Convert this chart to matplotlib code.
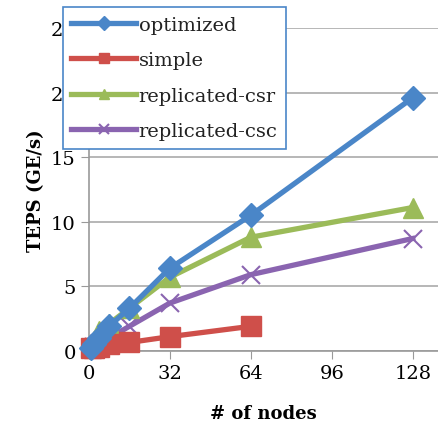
import matplotlib.pyplot as plt

nodes = [1, 2, 4, 8, 16, 32, 64, 128]
optimized = [0.25, 0.5, 1.0, 1.9, 3.3, 6.4, 10.5, 19.6]
simple = [0.2, 0.2, 0.3, 0.5, 0.65, 1.1, 1.9]
replicated_csr = [0.4, 0.8, 1.5, 2.1, 3.3, 5.7, 8.8, 11.1]
replicated_csc = [0.15, 0.3, 0.5, 1.0, 1.9, 3.7, 5.9, 8.7]

xticks = [0, 32, 64, 96, 128]
yticks = [0, 5, 10, 15, 20, 25]

plt.rcParams['font.family'] = ['DejaVu Serif']

fig = plt.figure(figsize=(4.38, 4.27), dpi=100)
ax = fig.add_axes([0.203, 0.176, 0.797, 0.756])

ax.plot(nodes, optimized, color='#4a86c8', lw=3.8, marker='D', ms=12,
        label='optimized', clip_on=False, zorder=5)
ax.plot(nodes[:len(simple)], simple, color='#cf4f4a', lw=3.8, marker='s', ms=14,
        label='simple', clip_on=False, zorder=4)
ax.plot(nodes, replicated_csr, color='#9bbb59', lw=3.8, marker='^', ms=15,
        label='replicated-csr', clip_on=False, zorder=3)
ax.plot(nodes, replicated_csc, color='#8a64b0', lw=3.8, marker='x', ms=13, mew=1.5,
        label='replicated-csc', clip_on=False, zorder=2)

ax.set_xlim(0, 138)
ax.set_ylim(0, 25)
ax.set_xticks(xticks)
ax.set_yticks(yticks)
ax.tick_params(labelsize=14, length=6, color='#999999', direction='out')
ax.yaxis.grid(True, color='#aaaaaa', lw=1.2)
ax.set_axisbelow(True)
for s in ['top', 'right']:
    ax.spines[s].set_visible(False)
for s in ['left', 'bottom']:
    ax.spines[s].set_color('#999999')
    ax.spines[s].set_linewidth(1.2)

ax.set_xlabel('# of nodes', fontsize=13, fontweight='bold')
ax.xaxis.set_label_coords(0.5, -0.165)
ax.set_ylabel('TEPS (GE/s)', fontsize=13, fontweight='bold', labelpad=4)

leg = ax.legend(loc='upper left', bbox_to_anchor=(-0.075, 1.065), fontsize=14,
                frameon=True, fancybox=False, handlelength=3.3, handletextpad=0.15,
                borderpad=0.45, labelspacing=0.9, borderaxespad=0)
leg.get_frame().set_edgecolor('#4a86c8')
leg.get_frame().set_linewidth(1.2)
leg.get_frame().set_alpha(1)
for t in leg.get_texts():
    t.set_color('#222222')
for h in leg.legend_handles:
    h.set_markersize(7)

fig.savefig('out.png', dpi=100)
